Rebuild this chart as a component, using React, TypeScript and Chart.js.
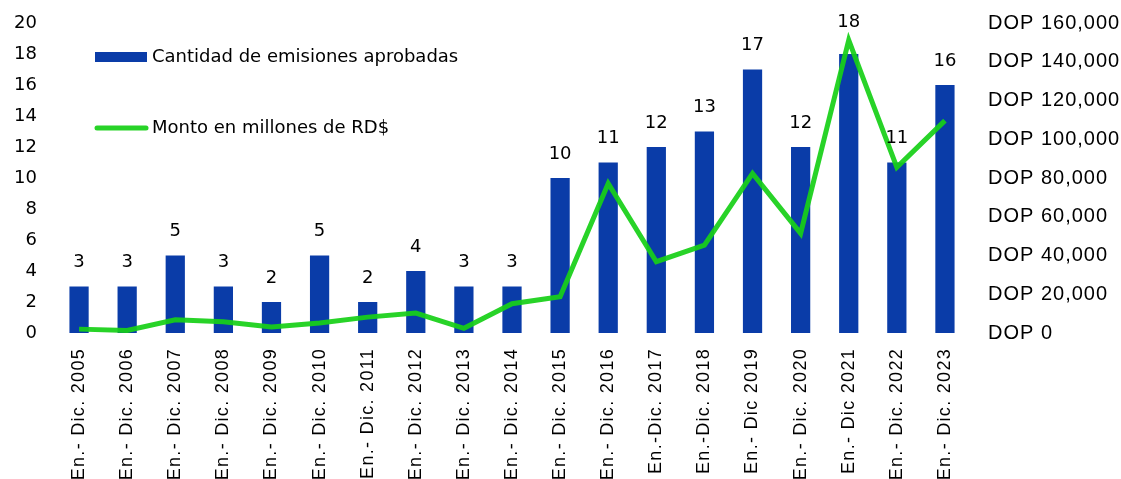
import React, { useEffect, useRef } from "react";
import { Chart, registerables, CategoryScale, LinearScale } from "chart.js";

const categories = [
  "En.- Dic. 2005", "En.- Dic. 2006", "En.- Dic. 2007", "En.- Dic. 2008", "En.- Dic. 2009",
  "En.- Dic. 2010", "En.- Dic. 2011", "En.- Dic. 2012", "En.- Dic. 2013", "En.- Dic. 2014",
  "En.- Dic. 2015", "En.- Dic. 2016", "En.-Dic. 2017", "En.-Dic. 2018", "En.- Dic 2019",
  "En.- Dic. 2020", "En.- Dic 2021", "En.- Dic. 2022", "En.- Dic. 2023",
];
const emisiones = [3, 3, 5, 3, 2, 5, 2, 4, 3, 3, 10, 11, 12, 13, 17, 12, 18, 11, 16];
const montos = [
  2000, 1300, 6800, 5800, 3100, 5200, 8200, 10300, 2400, 15100,
  18700, 77200, 36800, 45400, 82400, 51400, 151200, 85500, 109600,
];
const seriesNames = ["Cantidad de emisiones aprobadas", "Monto en millones de RD$"];
const leftTicks = { min: 0, max: 20, step: 2 };
const rightTicks = { min: 0, max: 160000, step: 20000, prefix: "DOP " };

const BLUE = "#0a3ca8";
const GREEN = "rgba(24,208,24,0.93)";
const GEO = "'DejaVu Sans', sans-serif";
const ARIAL = "'Liberation Sans', Arial, sans-serif";

class SpacedCategoryScale extends CategoryScale {
  static id = "spacedCategory";
  static defaults = CategoryScale.defaults;
  drawLabels(area: any) {
    const ctx: any = this.ctx;
    const prev = ctx.letterSpacing;
    ctx.letterSpacing = "1.3px";
    super.drawLabels(area);
    ctx.letterSpacing = prev || "0px";
  }
}
class SpacedLinearScale extends LinearScale {
  static id = "spacedLinear";
  static defaults = LinearScale.defaults;
  drawLabels(area: any) {
    const ctx: any = this.ctx;
    const prev = ctx.letterSpacing;
    ctx.letterSpacing = "1px";
    super.drawLabels(area);
    ctx.letterSpacing = prev || "0px";
  }
}

Chart.register(...registerables, SpacedCategoryScale, SpacedLinearScale);

const valueLabels = {
  id: "valueLabels",
  afterDatasetsDraw(chart: any) {
    const ctx = chart.ctx;
    const barMeta = chart.getDatasetMeta(1);
    const lineMeta = chart.getDatasetMeta(0);
    ctx.save();
    ctx.font = `18px ${GEO}`;
    ctx.fillStyle = "#000";
    ctx.textAlign = "center";
    ctx.textBaseline = "middle";
    barMeta.data.forEach((bar: any, i: number) => {
      const pt = lineMeta.data[i];
      const y = Math.min(bar.y - 24, pt.y - 18);
      ctx.fillText(String(chart.data.datasets[1].data[i]), bar.x, y);
    });
    ctx.restore();
  },
};

const customLegend = {
  id: "customLegend",
  afterDraw(chart: any) {
    const ctx = chart.ctx;
    const a = chart.chartArea;
    const x0 = a.left + 40;
    ctx.save();
    ctx.font = `18px ${GEO}`;
    ctx.textBaseline = "middle";
    ctx.textAlign = "left";
    ctx.fillStyle = BLUE;
    ctx.fillRect(x0, a.top + 29, 52, 10);
    ctx.fillStyle = "#000";
    ctx.fillText(chart.data.datasets[1].label, x0 + 57, a.top + 34);
    ctx.strokeStyle = GREEN;
    ctx.lineWidth = 5;
    ctx.lineCap = "round";
    ctx.beginPath();
    ctx.moveTo(x0 + 2, a.top + 105);
    ctx.lineTo(x0 + 51, a.top + 105);
    ctx.stroke();
    ctx.fillText(chart.data.datasets[0].label, x0 + 57, a.top + 105);
    ctx.restore();
  },
};

const noVPad = (s: any) => {
  s.paddingTop = 0;
  s.paddingBottom = 0;
};

export default function App() {
  const ref = useRef<HTMLCanvasElement>(null);
  useEffect(() => {
    if (!ref.current) return;
    const chart = new Chart(ref.current, {
      type: "bar",
      data: {
        labels: categories,
        datasets: [
          {
            type: "line",
            label: seriesNames[1],
            data: montos,
            yAxisID: "y1",
            borderColor: GREEN,
            backgroundColor: GREEN,
            borderWidth: 5,
            pointRadius: 0,
            tension: 0,
            order: 0,
          },
          {
            type: "bar",
            label: seriesNames[0],
            data: emisiones,
            yAxisID: "y",
            backgroundColor: BLUE,
            barPercentage: 0.4,
            categoryPercentage: 1,
            order: 1,
          },
        ],
      },
      options: {
        responsive: false,
        animation: false,
        layout: { padding: { top: 23, left: 0, right: 0, bottom: 0 } },
        plugins: { legend: { display: false }, tooltip: { enabled: false } },
        scales: {
          x: {
            type: "spacedCategory" as any,
            offset: true,
            grid: { display: false, drawTicks: false },
            border: { display: false },
            ticks: {
              minRotation: 90,
              maxRotation: 90,
              autoSkip: false,
              padding: 15,
              color: "#000",
              font: { family: ARIAL, size: 18 },
            },
            afterFit: (s: any) => { s.height = 146; },
          },
          y: {
            type: "linear",
            position: "left",
            min: leftTicks.min,
            max: leftTicks.max,
            grid: { display: false, drawTicks: false },
            border: { display: false },
            ticks: {
              stepSize: leftTicks.step,
              padding: 18,
              color: "#000",
              font: { family: GEO, size: 18 },
            },
            afterFit: (s: any) => { s.width = 55; noVPad(s); },
          },
          y1: {
            type: "spacedLinear" as any,
            position: "right",
            min: rightTicks.min,
            max: rightTicks.max,
            grid: { display: false, drawTicks: false },
            border: { display: false },
            ticks: {
              stepSize: rightTicks.step,
              padding: 19,
              color: "#000",
              font: { family: ARIAL, size: 20 },
              callback: (v: any) => rightTicks.prefix + Number(v).toLocaleString("en-US"),
            },
            afterFit: (s: any) => { s.width = 152; noVPad(s); },
          },
        },
      },
      plugins: [valueLabels, customLegend],
    });
    return () => chart.destroy();
  }, []);
  return (
    <div style={{ position: "fixed", left: 0, top: 0, width: 1121, height: 479, background: "#fff" }}>
      <canvas ref={ref} width={1121} height={479} style={{ display: "block" }} />
    </div>
  );
}
